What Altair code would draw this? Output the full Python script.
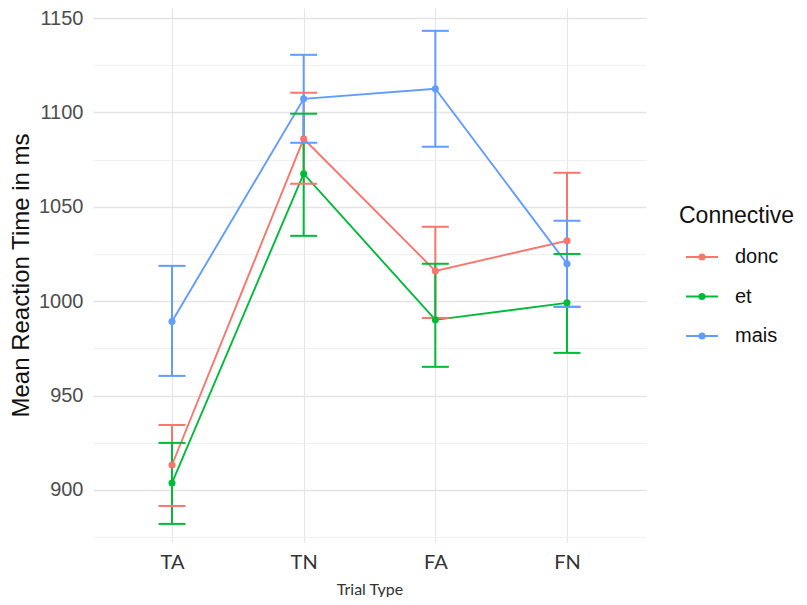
import altair as alt
import pandas as pd

trial_types = ["TA", "TN", "FA", "FN"]
connectives = ["donc", "et", "mais"]
colors = ["#F8766D", "#00BA38", "#619CFF"]

donc_mean = [913.2, 1086.0, 1016.0, 1032.0]
donc_lo = [891.5, 1062.2, 991.1, 997.0]
donc_hi = [934.4, 1110.4, 1039.4, 1068.0]

et_mean = [903.7, 1067.5, 990.1, 999.1]
et_lo = [882.0, 1034.6, 965.2, 972.6]
et_hi = [924.9, 1099.3, 1019.8, 1025.0]

mais_mean = [989.2, 1107.2, 1112.5, 1019.8]
mais_lo = [960.4, 1083.9, 1081.8, 997.0]
mais_hi = [1018.7, 1130.5, 1143.2, 1042.6]

y_ticks = [875, 900, 925, 950, 975, 1000, 1025, 1050, 1075, 1100, 1125, 1150]

rows = []
for conn, m, lo, hi in [("donc", donc_mean, donc_lo, donc_hi),
                        ("et", et_mean, et_lo, et_hi),
                        ("mais", mais_mean, mais_lo, mais_hi)]:
    for t, a, b, c in zip(trial_types, m, lo, hi):
        rows.append({"type": t, "conn": conn, "mean": a, "lo": b, "hi": c})
df = pd.DataFrame(rows)

xenc = alt.X("type:N", sort=trial_types,
             scale=alt.Scale(type="point", padding=0.6),
             axis=alt.Axis(title="Trial Type", labelAngle=0, grid=True, domain=False,
                           ticks=False, labelPadding=10, labelFont="Lato",
                           labelFontSize=20, labelColor="#333333",
                           titleFont="Lato", titleFontSize=16, titleFontWeight="normal",
                           titleColor="#333333", titleY=47, titleBaseline="middle",
                           gridColor="#E6E6E6", gridWidth=1.2))

yscale = alt.Scale(domain=[872.4, 1155.3], nice=False, zero=False)
yaxis = alt.Axis(title="Mean Reaction Time in ms", values=y_ticks, format="d",
                 labelExpr="datum.value % 50 === 0 ? datum.label : ''",
                 domain=False, ticks=False, labelPadding=10,
                 labelFont="Liberation Sans", labelFontSize=20, labelColor="#4D4D4D",
                 titleFont="Liberation Sans", titleFontSize=24, titleFontWeight="normal",
                 titleColor="#111111", titleX=-72, titleY=267, titleBaseline="middle",
                 gridColor={"condition": {"test": "datum.value % 50 === 0", "value": "#E4E4E4"}, "value": "#EDEDED"},
                 gridWidth={"condition": {"test": "datum.value % 50 === 0", "value": 1.3}, "value": 0.9})

cscale = alt.Scale(domain=connectives, range=colors)

sym = ("M-1,0L1,0"
       "M0.16,0A0.16,0.16 0 1,1 -0.16,0A0.16,0.16 0 1,1 0.16,0"
       "M0.07,0A0.07,0.07 0 1,1 -0.07,0A0.07,0.07 0 1,1 0.07,0")

legend = alt.Legend(title="Connective", orient="none",
                    legendX=586, legendY=197,
                    titleFont="Liberation Sans", titleFontSize=23,
                    titleFontWeight="normal", titleColor="#111111",
                    titlePadding=12,
                    labelFont="Liberation Sans", labelFontSize=20,
                    labelColor="#111111", labelOffset=16,
                    symbolType=sym, symbolSize=1024,
                    symbolStrokeWidth=2, symbolOffset=6,
                    rowPadding=12.5, padding=0)

base = alt.Chart(df)

lines = base.mark_line(strokeWidth=1.9).encode(
    x=xenc,
    y=alt.Y("mean:Q", scale=yscale, axis=yaxis),
    color=alt.Color("conn:N", scale=cscale, legend=legend),
)

bars = base.mark_rule(strokeWidth=2).encode(
    x=alt.X("type:N", sort=trial_types),
    y=alt.Y("lo:Q"),
    y2="hi:Q",
    color=alt.Color("conn:N", scale=cscale),
)

cap_lo = base.mark_tick(size=27, thickness=2, orient="horizontal", opacity=1).encode(
    x=alt.X("type:N", sort=trial_types),
    y=alt.Y("lo:Q"),
    color=alt.Color("conn:N", scale=cscale),
)
cap_hi = base.mark_tick(size=27, thickness=2, orient="horizontal", opacity=1).encode(
    x=alt.X("type:N", sort=trial_types),
    y=alt.Y("hi:Q"),
    color=alt.Color("conn:N", scale=cscale),
)

points = base.mark_point(filled=True, size=50, opacity=1).encode(
    x=alt.X("type:N", sort=trial_types),
    y=alt.Y("mean:Q"),
    color=alt.Color("conn:N", scale=cscale),
)

chart = alt.layer(lines, bars, cap_lo, cap_hi, points).properties(
    width=553, height=534,
    padding={"left": 85, "top": 0, "right": 153, "bottom": 55},
    autosize=alt.AutoSizeParams(type="none"),
    background="white",
).configure_view(stroke=None)

chart.save("out.html", embed_options={"renderer": "svg", "actions": False})
